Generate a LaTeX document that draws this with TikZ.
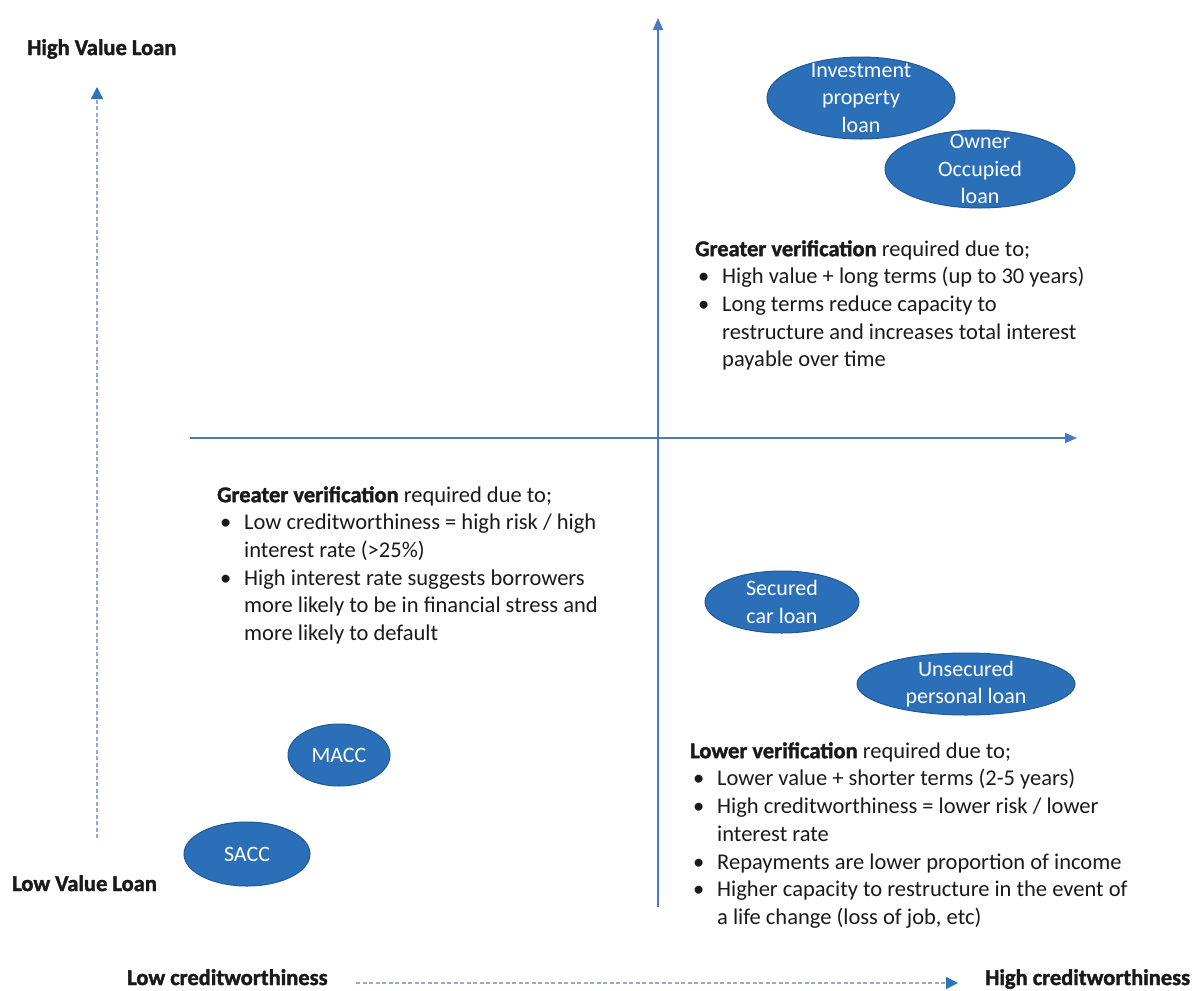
\documentclass[tikz,border=0pt]{standalone}
\usepackage{fontspec}
\setmainfont{Carlito}[BoldFeatures={FakeBold=1.6}]
\usetikzlibrary{arrows.meta,shapes.geometric}
\definecolor{axisblue}{HTML}{4A78C4}
\definecolor{dashblue}{HTML}{8FAADC}
\definecolor{tipblue}{HTML}{2E75B6}
\definecolor{ellfill}{HTML}{2A6FB8}
\definecolor{elldraw}{HTML}{1F5A96}
\definecolor{txt}{HTML}{1A1A1A}
\begin{document}
\begin{tikzpicture}[x=1pt,y=-1pt,
  axis/.style={draw=axisblue, line width=1.6pt, -{Triangle[length=12pt,width=10pt,color=axisblue]}},
  dasharrow/.style={draw=dashblue, line width=1.4pt, dash pattern=on 4pt off 2.5pt, -{Triangle[length=12pt,width=12pt,color=tipblue]}},
  loanell/.style={ellipse, draw=elldraw, line width=1pt, fill=ellfill, inner sep=0pt},
  elltext/.style={text=white, align=center, inner sep=0pt, font=\fontsize{22}{27.5}\selectfont},
  axlabel/.style={anchor=base west, inner sep=0pt, text=txt, font=\fontsize{22.5}{27.7}\selectfont\bfseries},
  blk/.style={anchor=north west, inner sep=0pt, align=left, text=txt, font=\fontsize{22.5}{27.7}\selectfont},
]
\useasboundingbox (0,0) rectangle (1192,991);
\fill[white] (0,0) rectangle (1192,991);

% axes
\coordinate (vbot) at (658,907);
\coordinate (vtop) at (658,18);
\coordinate (hl) at (190,438);
\coordinate (hr) at (1077,438);
\draw[axis] (vbot) -- (vtop);
\draw[axis] (hl) -- (hr);

% dashed guide arrows
\coordinate (lvb) at (97,838);
\coordinate (lvt) at (97,87);
\coordinate (bhl) at (356,983);
\coordinate (bhr) at (958,983);
\draw[dasharrow] (lvb) -- (lvt);
\draw[dasharrow] (bhl) -- (bhr);

% axis labels
\node[axlabel] (hvl) at (27,55) {High Value Loan};
\node[axlabel] (lvl) at (12,891) {Low Value Loan};
\node[axlabel] (lcw) at (127,985) {Low creditworthiness};
\node[axlabel] (hcw) at (985,985) {High creditworthiness};

% ellipses
\node[loanell, minimum width=188pt, minimum height=82pt] (ipl) at (861,98) {};
\node[elltext] (iplt) at (ipl.center) {Investment\\property\\loan};
\node[loanell, minimum width=190pt, minimum height=78pt] (ool) at (980,169) {};
\node[elltext] (oolt) at (ool.center) {Owner\\Occupied\\loan};
\node[loanell, minimum width=154pt, minimum height=62pt] (scl) at (782,602) {};
\node[elltext] (sclt) at (scl.center) {Secured\\car loan};
\node[loanell, minimum width=218pt, minimum height=62pt] (upl) at (966,684) {};
\node[elltext] (uplt) at (upl.center) {Unsecured\\personal loan};
\node[loanell, minimum width=102pt, minimum height=62pt] (macc) at (339,755) {};
\node[elltext] (macct) at (macc.center) {MACC};
\node[loanell, minimum width=126pt, minimum height=64pt] (sacc) at (247,854) {};
\node[elltext] (sacct) at (sacc.center) {SACC};

% text blocks
\newcommand{\bul}{\hspace*{3pt}\makebox[24pt][l]{•}}
\newcommand{\cont}{\hspace*{27pt}}
\node[blk] (tr) at (695,236.6) {\strut\textbf{Greater verification} required due to;\\
\bul High value + long terms (up to 30 years)\\
\bul Long terms reduce capacity to\\
\cont restructure and increases total interest\\
\cont payable over time};

\node[blk] (ll) at (217,482.6) {\strut\textbf{Greater verification} required due to;\\
\bul Low creditworthiness = high risk / high\\
\cont interest rate (>25\%)\\
\bul High interest rate suggests borrowers\\
\cont more likely to be in financial stress and\\
\cont more likely to default};

\node[blk] (lr) at (690,738.6) {\strut\textbf{Lower verification} required due to;\\
\bul Lower value + shorter terms (2-5 years)\\
\bul High creditworthiness = lower risk / lower\\
\cont interest rate\\
\bul Repayments are lower proportion of income\\
\bul Higher capacity to restructure in the event of\\
\cont a life change (loss of job, etc)};
\end{tikzpicture}
\end{document}
